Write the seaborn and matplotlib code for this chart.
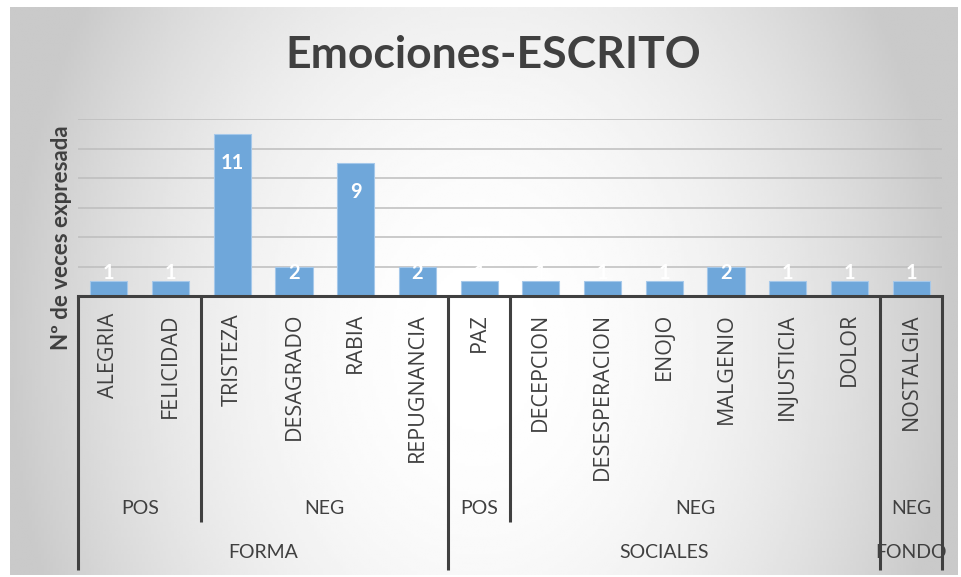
"""
Emociones-ESCRITO: bar chart with a three-level category axis (Excel style)
"""

import numpy as np
import matplotlib
matplotlib.use("Agg")
import matplotlib.pyplot as plt
from matplotlib.transforms import blended_transform_factory
import seaborn as sns

# Data
emociones = ["ALEGRIA", "FELICIDAD", "TRISTEZA", "DESAGRADO", "RABIA", "REPUGNANCIA",
             "PAZ", "DECEPCION", "DESESPERACION", "ENOJO", "MALGENIO", "INJUSTICIA",
             "DOLOR", "NOSTALGIA"]
valores = [1, 1, 11, 2, 9, 2, 1, 1, 1, 1, 2, 1, 1, 1]
valencia = ["POS", "NEG", "POS", "NEG", "NEG"]
valencia_n = [2, 4, 1, 6, 1]
tipo = ["FORMA", "SOCIALES", "FONDO"]
tipo_n = [6, 7, 1]

titulo = "Emociones-ESCRITO"
eje_y = "Nº de veces expresada"

sns.set_style("white")
plt.rcParams['font.family'] = ['Lato', 'DejaVu Sans']

W, H = 961, 577
TXT = '#404040'
BAR = '#6fa7da'

fig = plt.figure(figsize=(W / 100, H / 100), dpi=100)
fig.patch.set_facecolor('white')


def fy(py):
    """pixel row from the top -> figure fraction"""
    return 1 - py / H


# Radial grey gradient behind everything
bg = fig.add_axes([10 / W, fy(575), 948 / W, 568 / H], zorder=0)
gx, gy = np.meshgrid(np.linspace(0, 948, 320), np.linspace(0, 568, 200))
dx = (gx - 470) / 474
dy = (gy - 340) / 284
shade = np.clip(1 - 0.21 * (dx ** 2 + (0.45 * dy) ** 2), 0.79, 1)
bg.imshow(shade, cmap='gray', vmin=0, vmax=1, aspect='auto',
          extent=(0, 1, 0, 1), interpolation='bilinear')
bg.axis('off')

# Main plot area
ax = fig.add_axes([78 / W, fy(296), 864 / W, 177 / H], zorder=1)
ax.set_facecolor('none')
sns.barplot(x=emociones, y=valores, color=BAR, width=0.6, saturation=1,
            edgecolor='#a5c8ea', linewidth=0.8, ax=ax, zorder=3)
ax.set_xlim(-0.5, len(emociones) - 0.5)
ax.set_ylim(0, 12)
ax.set_yticks(range(2, 13, 2))
ax.yaxis.grid(True, color='#bdbdbd', linewidth=1.1, zorder=0)
ax.set_yticklabels([])
ax.tick_params(left=False, bottom=False, labelbottom=False)
ax.set_xlabel('')
ax.set_ylabel('')
for s in ['left', 'right', 'top']:
    ax.spines[s].set_visible(False)
ax.spines['bottom'].set_color(TXT)
ax.spines['bottom'].set_linewidth(2.2)
ax.spines['bottom'].set_zorder(5)

# Data labels (white, inside end)
for i, v in enumerate(valores):
    ypos = v - 1.95 if v > 4 else 1.55
    ax.text(i, ypos, str(v), color='white', fontsize=14.5, fontweight='bold',
            ha='center', va='center', zorder=6)

# Multi-level category axis
tr = blended_transform_factory(ax.transData, fig.transFigure)
for i, lab in enumerate(emociones):
    ax.text(i, fy(313), lab, transform=tr, rotation=90, ha='center', va='top',
            fontsize=15.5, color=TXT, family=['Open Sans', 'DejaVu Sans'])

bordes3 = list(np.cumsum([0] + tipo_n) - 0.5)
bordes2 = [b for b in np.cumsum([0] + valencia_n) - 0.5 if b not in bordes3]

for b in bordes3:
    ax.plot([b, b], [fy(296), fy(570)], transform=tr, color=TXT, lw=2.2,
            clip_on=False, solid_capstyle='butt', zorder=5)
for b in bordes2:
    ax.plot([b, b], [fy(296), fy(522)], transform=tr, color=TXT, lw=2.2,
            clip_on=False, solid_capstyle='butt', zorder=5)

start = 0
for lab, n in zip(valencia, valencia_n):
    ax.text(start + (n - 1) / 2, fy(508), lab, transform=tr, ha='center', va='center',
            fontsize=14, color=TXT)
    start += n

start = 0
for lab, n in zip(tipo, tipo_n):
    ax.text(start + (n - 1) / 2, fy(553), lab, transform=tr, ha='center', va='center',
            fontsize=14, color=TXT)
    start += n

# Title and axis label
fig.text(493 / W, fy(55), titulo, ha='center', va='center', fontsize=32,
         fontweight='bold', color=TXT)
fig.text(62 / W, fy(238), eje_y, ha='center', va='center', rotation=90,
         fontsize=16, fontweight='bold', color=TXT)

fig.savefig('out.png', dpi=100)
